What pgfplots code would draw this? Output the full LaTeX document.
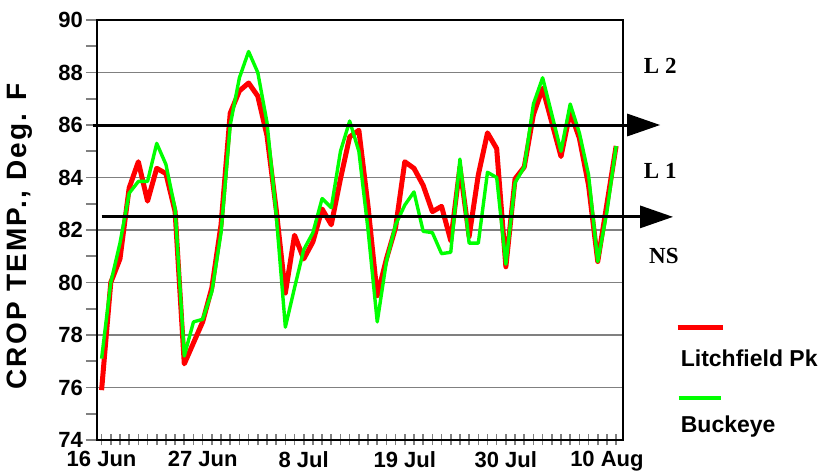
\documentclass[border=0pt]{standalone}
\usepackage{pgfplots}
\usepackage{pgfplotstable}
\pgfplotsset{compat=1.18}
\usetikzlibrary{arrows.meta}
\usepackage{fontspec}
\setmainfont{Liberation Sans}
\newfontfamily\serifb{Liberation Serif}
\definecolor{gridgray}{RGB}{128,128,128}
\definecolor{lred}{RGB}{255,0,0}
\definecolor{lgreen}{RGB}{0,255,0}

\pgfplotstableread{
day red green
0 75.9 77.1
1 80.0 80.0
2 80.9 81.5
3 83.6 83.4
4 84.6 83.85
5 83.1 83.85
6 84.35 85.3
7 84.15 84.5
8 82.7 82.8
9 76.9 77.2
10 77.7 78.5
11 78.5 78.6
12 79.8 79.65
13 82.2 81.9
14 86.45 86.0
15 87.3 87.8
16 87.6 88.8
17 87.1 88.0
18 85.6 86.1
19 82.8 82.6
20 79.6 78.3
21 81.8 79.8
22 80.9 81.25
23 81.55 81.9
24 82.8 83.2
25 82.2 82.85
26 83.95 85.0
27 85.55 86.15
28 85.8 85.0
29 82.9 82.0
30 79.5 78.5
31 80.9 80.8
32 82.1 82.2
33 84.6 82.95
34 84.35 83.45
35 83.7 81.95
36 82.7 81.9
37 82.9 81.1
38 81.6 81.15
39 84.4 84.7
40 81.75 81.5
41 84.1 81.5
42 85.7 84.2
43 85.1 84.0
44 80.6 80.7
45 83.95 83.8
46 84.4 84.4
47 86.4 86.8
48 87.4 87.8
49 86.1 86.4
50 84.8 85.0
51 86.5 86.8
52 85.5 85.7
53 83.7 84.1
54 80.8 80.8
55 83.0 82.7
56 85.2 85.2
}\datatable

\begin{document}
\begin{tikzpicture}
\begin{axis}[
  scale only axis, width=263pt, height=210pt,
  xmin=-0.5, xmax=56.75, ymin=74, ymax=90,
  clip=false,
  xtick={0,11,22,33,44,55},
  xticklabels={16 Jun,27 Jun,8 Jul,19 Jul,30 Jul,10 Aug},
  minor xtick={0,1,...,56},
  ytick={74,76,...,90},
  minor ytick={75,77,...,89},
  xtick pos=bottom, ytick pos=left,
  ymajorgrids,
  major grid style={gridgray, line width=0.8pt},
  axis line style={black, line width=1.4pt},
  tick align=outside,
  major tick length=5.5pt, minor tick length=5.5pt,
  every tick/.style={gridgray, line width=0.8pt},
  x tick style={yshift=2.9pt},
  ticklabel style={font=\bfseries\fontsize{11}{13}\selectfont},
  xticklabel style={yshift=3.5pt},
  yticklabel style={xshift=2pt},
  /pgf/number format/assume math mode=true,
  ylabel={CROP TEMP., Deg. F},
  ylabel style={font=\bfseries\fontsize{14}{16}\selectfont\addfontfeature{LetterSpace=8}, at={(axis description cs:-0.1464,0.485)}, anchor=center},
]
\addplot[lred, line width=2.5pt, line join=round] table[x=day,y=red]{\datatable};
\addplot[lgreen, line width=1.7pt, line join=round] table[x=day,y=green]{\datatable};

\draw[black, line width=1.5pt, -{Triangle[length=16.5pt,width=11pt]}] (axis cs:-0.95,86) -- (axis cs:60.8,86);
\draw[black, line width=1.5pt, -{Triangle[length=16.5pt,width=11pt]}] (axis cs:0,82.5) -- (axis cs:62.2,82.5);

\node[font=\serifb\bfseries\fontsize{11.5}{13}\selectfont] at (axis cs:60.8,88.25) {L 2};
\node[font=\serifb\bfseries\fontsize{11.5}{13}\selectfont] at (axis cs:60.8,84.25) {L 1};
\node[font=\serifb\bfseries\fontsize{11.5}{13}\selectfont] at (axis cs:61.2,81.0) {NS};

\addplot[lred, line width=2.5pt, forget plot] coordinates {(62.7,78.27) (67.6,78.27)};
\addplot[lgreen, line width=1.7pt, forget plot] coordinates {(62.8,75.6) (67.4,75.6)};
\node[anchor=west, inner sep=0pt, font=\bfseries\fontsize{11.5}{13}\selectfont] at (axis cs:63.0,77.12) {Litchfield Pk};
\node[anchor=west, inner sep=0pt, font=\bfseries\fontsize{11.5}{13}\selectfont] at (axis cs:63.0,74.5) {Buckeye};
\end{axis}
\pgfresetboundingbox
\path[use as bounding box] (-48.5pt,-16pt) rectangle (362.5pt,220pt);
\end{tikzpicture}
\end{document}
